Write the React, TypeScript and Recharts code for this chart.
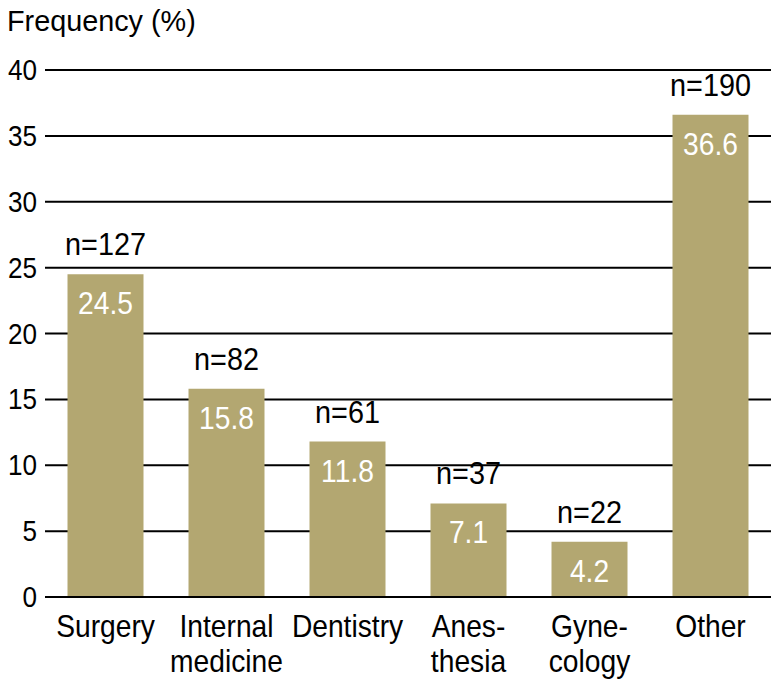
import React from 'react';
import { BarChart, Bar, XAxis, YAxis, CartesianGrid, LabelList } from 'recharts';

const categories = ['Surgery', 'Internal\nmedicine', 'Dentistry', 'Anes-\nthesia', 'Gyne-\ncology', 'Other'];
const percents = [24.5, 15.8, 11.8, 7.1, 4.2, 36.6];
const counts = [127, 82, 61, 37, 22, 190];
const yTicks = [0, 5, 10, 15, 20, 25, 30, 35, 40];

const data = categories.map((c, i) => ({ name: c, value: percents[i], n: counts[i] }));

const FONT = "'Liberation Sans', Arial, sans-serif";
const BAR = '#b3a771';

const CatTick = (props: any) => {
  const { x, payload } = props;
  const lines = String(payload.value).split('\n');
  return (
    <g>
      {lines.map((l, i) => (
        <text key={i} transform={`translate(${x},${597 + 40 + i * 35}) scale(0.91,1)`} textAnchor="middle" fontSize={31} fontFamily={FONT} fill="#000">
          {l}
        </text>
      ))}
    </g>
  );
};

const NLabel = (props: any) => {
  const { x, y, width, index } = props;
  return (
    <text transform={`translate(${x + width / 2},${y - 19}) scale(0.93,1)`} textAnchor="middle" fontSize={31} fontFamily={FONT} fill="#000">
      {`n=${counts[index]}`}
    </text>
  );
};

const VLabel = (props: any) => {
  const { x, y, width, index } = props;
  return (
    <text transform={`translate(${x + width / 2},${y + 40}) scale(0.91,1)`} textAnchor="middle" fontSize={31} fontFamily={FONT} fill="#fff">
      {percents[index].toFixed(1)}
    </text>
  );
};

const YTick = (props: any) => {
  const { y, payload } = props;
  return (
    <text transform={`translate(37,${y + 10}) scale(0.9,1)`} textAnchor="end" fontSize={29} fontFamily={FONT} fill="#000">
      {payload.value}
    </text>
  );
};

export default function App() {
  return (
    <div style={{ position: 'absolute', left: 0, top: 0, width: 777, height: 685, background: '#fff' }}>
      <BarChart width={777} height={685} data={data} margin={{ top: 70, right: 6, bottom: 0, left: 0 }} barCategoryGap="18.6%">
        <text transform="translate(7,31) scale(0.96,1)" fontSize={30} fontFamily={FONT} fill="#000">Frequency (%)</text>
        <CartesianGrid vertical={false} stroke="#000" strokeWidth={2} />
        <YAxis
          domain={[0, 40]}
          ticks={yTicks}
          width={45}
          axisLine={false}
          tickLine={false}
          interval={0}
          tick={<YTick />}
        />
        <XAxis
          dataKey="name"
          height={88}
          axisLine={{ stroke: '#000', strokeWidth: 2 }}
          tickLine={false}
          interval={0}
          tick={<CatTick />}
        />
        <Bar dataKey="value" fill={BAR} isAnimationActive={false}>
          <LabelList dataKey="n" content={<NLabel />} />
          <LabelList dataKey="value" content={<VLabel />} />
        </Bar>
      </BarChart>
    </div>
  );
}
